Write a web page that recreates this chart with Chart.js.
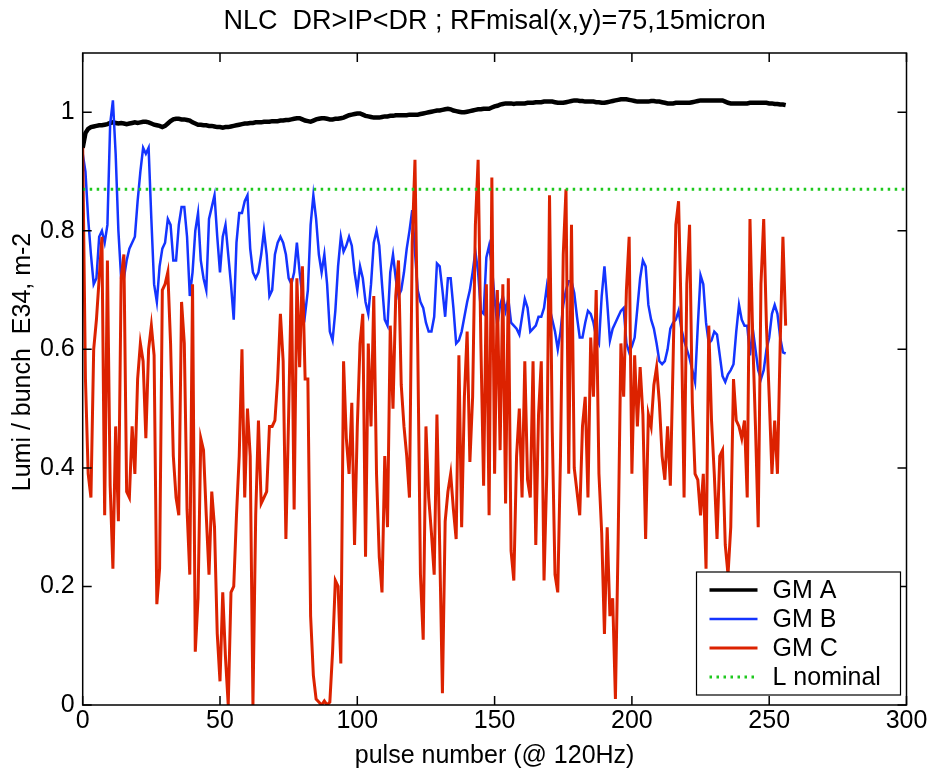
<!DOCTYPE html>
<html>
<head>
<meta charset="utf-8">
<script src="https://cdn.jsdelivr.net/npm/chart.js@4.4.1/dist/chart.umd.min.js"></script>
<style>
  html, body { margin: 0; padding: 0; background: #fff; }
  #wrap { width: 933px; height: 770px; }
</style>
</head>
<body>
<div id="wrap"><canvas id="lumiChart" width="933" height="770"></canvas></div>
<script>
// pulse index 0..256 (x axis)
const pulses = Array.from({ length: 257 }, (_, i) => i);

const gmA = [
  0.940, 0.965, 0.972, 0.975, 0.976, 0.977, 0.978, 0.978, 0.979, 0.980,
  0.982, 0.983, 0.982, 0.981, 0.982, 0.981, 0.980, 0.981, 0.982, 0.983,
  0.982, 0.983, 0.984, 0.984, 0.983, 0.981, 0.979, 0.978, 0.977, 0.975,
  0.977, 0.981, 0.985, 0.988, 0.989, 0.989, 0.988, 0.988, 0.987, 0.986,
  0.983, 0.981, 0.979, 0.979, 0.978, 0.978, 0.977, 0.977, 0.976, 0.975,
  0.975, 0.974, 0.975, 0.975, 0.976, 0.977, 0.978, 0.979, 0.980, 0.981,
  0.981, 0.982, 0.982, 0.983, 0.983, 0.983, 0.984, 0.984, 0.984, 0.985,
  0.985, 0.985, 0.986, 0.986, 0.987, 0.987, 0.988, 0.989, 0.990, 0.990,
  0.988, 0.986, 0.985, 0.984, 0.986, 0.988, 0.989, 0.990, 0.990, 0.989,
  0.988, 0.988, 0.989, 0.989, 0.990, 0.991, 0.993, 0.995, 0.996, 0.997,
  0.998, 0.998, 0.996, 0.994, 0.993, 0.992, 0.991, 0.991, 0.991, 0.992,
  0.993, 0.993, 0.994, 0.994, 0.995, 0.995, 0.995, 0.995, 0.995, 0.996,
  0.996, 0.996, 0.996, 0.997, 0.998, 0.999, 1.000, 1.001, 1.002, 1.003,
  1.003, 1.004, 1.005, 1.006, 1.005, 1.003, 1.002, 1.001, 1.000, 1.000,
  1.001, 1.002, 1.003, 1.004, 1.005, 1.005, 1.006, 1.006, 1.006, 1.008,
  1.010, 1.011, 1.013, 1.014, 1.015, 1.015, 1.015, 1.014, 1.015, 1.015,
  1.015, 1.015, 1.016, 1.016, 1.016, 1.017, 1.017, 1.017, 1.018, 1.018,
  1.018, 1.018, 1.017, 1.016, 1.016, 1.016, 1.017, 1.018, 1.019, 1.020,
  1.020, 1.019, 1.019, 1.018, 1.018, 1.018, 1.018, 1.017, 1.017, 1.016,
  1.016, 1.017, 1.018, 1.019, 1.020, 1.021, 1.022, 1.022, 1.022, 1.021,
  1.020, 1.019, 1.018, 1.018, 1.018, 1.018, 1.018, 1.019, 1.019, 1.018,
  1.018, 1.017, 1.016, 1.015, 1.015, 1.015, 1.016, 1.016, 1.016, 1.016,
  1.016, 1.016, 1.017, 1.018, 1.019, 1.020, 1.020, 1.020, 1.020, 1.020,
  1.020, 1.020, 1.020, 1.020, 1.018, 1.016, 1.015, 1.015, 1.015, 1.015,
  1.015, 1.015, 1.015, 1.016, 1.016, 1.016, 1.016, 1.016, 1.016, 1.016,
  1.015, 1.015, 1.014, 1.014, 1.013, 1.013, 1.012
];

const gmB = [
  0.93, 0.90, 0.82, 0.76, 0.71, 0.72, 0.79, 0.80, 0.78, 0.81,
  0.98, 1.02, 0.93, 0.80, 0.72, 0.72, 0.75, 0.77, 0.78, 0.79,
  0.85, 0.90, 0.94, 0.93, 0.94, 0.82, 0.71, 0.68, 0.74, 0.77,
  0.78, 0.82, 0.81, 0.75, 0.75, 0.81, 0.84, 0.84, 0.79, 0.69,
  0.73, 0.80, 0.83, 0.75, 0.72, 0.70, 0.82, 0.84, 0.86, 0.79,
  0.73, 0.79, 0.81, 0.76, 0.71, 0.65, 0.78, 0.83, 0.83, 0.85,
  0.86, 0.77, 0.73, 0.72, 0.73, 0.76, 0.80, 0.76, 0.69, 0.70,
  0.76, 0.78, 0.79, 0.78, 0.76, 0.72, 0.71, 0.73, 0.78, 0.73,
  0.69, 0.66, 0.70, 0.81, 0.86, 0.82, 0.76, 0.73, 0.76, 0.71,
  0.63, 0.615, 0.665, 0.74, 0.79, 0.765, 0.775, 0.79, 0.775, 0.73,
  0.70, 0.74, 0.72, 0.68, 0.66, 0.71, 0.78, 0.80, 0.775, 0.71,
  0.65, 0.64, 0.73, 0.76, 0.72, 0.69, 0.70, 0.73, 0.77, 0.80,
  0.835, 0.765, 0.70, 0.68, 0.67, 0.645, 0.63, 0.63, 0.655, 0.745,
  0.74, 0.70, 0.655, 0.72, 0.72, 0.67, 0.61, 0.615, 0.63, 0.655,
  0.68, 0.70, 0.73, 0.765, 0.73, 0.665, 0.66, 0.755, 0.775, 0.74,
  0.685, 0.64, 0.675, 0.69, 0.665, 0.685, 0.645, 0.64, 0.635, 0.625,
  0.655, 0.685, 0.67, 0.63, 0.635, 0.64, 0.655, 0.655, 0.67, 0.705,
  0.67, 0.65, 0.63, 0.60, 0.63, 0.675, 0.70, 0.715, 0.715, 0.695,
  0.655, 0.62, 0.62, 0.645, 0.665, 0.66, 0.645, 0.62, 0.61, 0.69,
  0.74, 0.68, 0.615, 0.635, 0.645, 0.655, 0.665, 0.67, 0.61, 0.595,
  0.605, 0.62, 0.67, 0.72, 0.75, 0.74, 0.675, 0.65, 0.635, 0.61,
  0.58, 0.575, 0.58, 0.60, 0.635, 0.645, 0.65, 0.665, 0.635, 0.615,
  0.60, 0.585, 0.565, 0.545, 0.64, 0.725, 0.71, 0.645, 0.61, 0.615,
  0.63, 0.625, 0.59, 0.555, 0.545, 0.558, 0.565, 0.575, 0.63, 0.675,
  0.65, 0.64, 0.64, 0.59, 0.635, 0.60, 0.565, 0.55, 0.565, 0.60,
  0.62, 0.66, 0.675, 0.66, 0.62, 0.595, 0.593
];

const gmC = [
  0.94, 0.55, 0.39, 0.35, 0.60, 0.65, 0.72, 0.79, 0.32, 0.75,
  0.37, 0.23, 0.47, 0.31, 0.72, 0.76, 0.36, 0.35, 0.47, 0.39,
  0.55, 0.61, 0.58, 0.45, 0.60, 0.64, 0.59, 0.17, 0.23, 0.70,
  0.71, 0.73, 0.61, 0.42, 0.35, 0.32, 0.68, 0.61, 0.33, 0.22,
  0.71, 0.09, 0.18, 0.45, 0.43, 0.32, 0.22, 0.36, 0.30, 0.12,
  0.04, 0.19, 0.08, 0.00, 0.19, 0.20, 0.32, 0.42, 0.60, 0.35,
  0.50, 0.42, 0.00, 0.32, 0.48, 0.34, 0.35, 0.36, 0.47, 0.47,
  0.48, 0.55, 0.66, 0.58, 0.28, 0.49, 0.72, 0.33, 0.72, 0.57,
  0.74, 0.55, 0.55, 0.15, 0.05, 0.01, 0.005, 0.00, 0.007, 0.00,
  0.005, 0.09, 0.21, 0.20, 0.07, 0.58, 0.45, 0.39, 0.51, 0.27,
  0.47, 0.61, 0.66, 0.25, 0.61, 0.47, 0.69, 0.39, 0.25, 0.19,
  0.42, 0.30, 0.64, 0.50, 0.69, 0.75, 0.54, 0.47, 0.42, 0.35,
  0.78, 0.92, 0.61, 0.22, 0.11, 0.47, 0.35, 0.29, 0.22, 0.49,
  0.27, 0.02, 0.31, 0.36, 0.39, 0.33, 0.28, 0.59, 0.30, 0.52,
  0.63, 0.41, 0.52, 0.81, 0.92, 0.61, 0.37, 0.71, 0.32, 0.89,
  0.39, 0.70, 0.43, 0.71, 0.34, 0.72, 0.26, 0.21, 0.42, 0.50,
  0.35, 0.58, 0.38, 0.35, 0.58, 0.27, 0.49, 0.58, 0.21, 0.39,
  0.86, 0.46, 0.22, 0.19, 0.42, 0.76, 0.87, 0.39, 0.81, 0.40,
  0.36, 0.32, 0.47, 0.52, 0.35, 0.62, 0.52, 0.70, 0.39, 0.29,
  0.12, 0.30, 0.15, 0.18, 0.01, 0.28, 0.61, 0.52, 0.70, 0.79,
  0.39, 0.59, 0.47, 0.57, 0.49, 0.28, 0.49, 0.47, 0.54, 0.57,
  0.51, 0.42, 0.38, 0.47, 0.37, 0.58, 0.81, 0.85, 0.65, 0.35,
  0.71, 0.81, 0.51, 0.39, 0.38, 0.32, 0.39, 0.23, 0.64, 0.48,
  0.39, 0.28, 0.42, 0.43, 0.27, 0.22, 0.30, 0.55, 0.48, 0.47,
  0.45, 0.48, 0.35, 0.82, 0.62, 0.47, 0.30, 0.71, 0.82, 0.64,
  0.52, 0.39, 0.48, 0.39, 0.61, 0.79, 0.64
];

// nominal luminosity, dotted across the whole axis
const nominalX = [0, 300];
const nominalY = [0.87, 0.87];

const xTicks = [0, 50, 100, 150, 200, 250, 300];
const yTicks = [0, 0.2, 0.4, 0.6, 0.8, 1];

const titleText = 'NLC  DR>IP<DR ; RFmisal(x,y)=75,15micron';
const xLabel = 'pulse number (@ 120Hz)';
const yLabel = 'Lumi / bunch  E34, m-2';

const FAMILY = '"Liberation Sans", Arial, Helvetica, sans-serif';
const BLACK = '#000000', BLUE = '#1434ff', RED = '#dc2200', GREEN = '#1ec81e';

function toPoints(xs, ys) {
    return ys.map((y, i) => ({ x: xs[i], y: y }));
}

// box, inward ticks on all four sides, y label (MATLAB look)
const matlabAxes = {
    id: 'matlabAxes',
    afterDatasetsDraw(chart) {
        const ctx = chart.ctx;
        const a = chart.chartArea;
        const x = chart.scales.x, y = chart.scales.y;
        const len = 9;
        ctx.save();
        ctx.strokeStyle = '#000';
        ctx.lineWidth = 1.5;
        ctx.strokeRect(a.left, a.top, a.right - a.left, a.bottom - a.top);
        ctx.beginPath();
        xTicks.forEach(v => {
            const px = x.getPixelForValue(v);
            ctx.moveTo(px, a.bottom); ctx.lineTo(px, a.bottom - len);
            ctx.moveTo(px, a.top); ctx.lineTo(px, a.top + len);
        });
        yTicks.forEach(v => {
            const py = y.getPixelForValue(v);
            ctx.moveTo(a.left, py); ctx.lineTo(a.left + len, py);
            ctx.moveTo(a.right, py); ctx.lineTo(a.right - len, py);
        });
        ctx.stroke();

        ctx.fillStyle = '#000';
        ctx.font = '25px ' + FAMILY;
        ctx.textAlign = 'center';
        ctx.textBaseline = 'middle';
        ctx.translate(23, (a.top + a.bottom) / 2 - 17);
        ctx.rotate(-Math.PI / 2);
        ctx.fillText(yLabel, 0, 0);
        ctx.restore();
    }
};

// legend box in the lower right corner of the plot
const boxLegend = {
    id: 'boxLegend',
    afterDraw(chart) {
        const ctx = chart.ctx;
        const a = chart.chartArea;
        const w = 204, h = 123;
        const left = a.right - 6 - w, top = a.bottom - 10 - h;
        ctx.save();
        ctx.fillStyle = '#fff';
        ctx.fillRect(left, top, w, h);
        ctx.strokeStyle = '#000';
        ctx.lineWidth = 1.2;
        ctx.strokeRect(left, top, w, h);
        ctx.font = '25px ' + FAMILY;
        ctx.textBaseline = 'middle';
        ctx.textAlign = 'left';
        chart.data.datasets.forEach((ds, i) => {
            const cy = top + 18 + 29 * i;
            ctx.beginPath();
            ctx.strokeStyle = ds.borderColor;
            ctx.lineWidth = i === 0 ? 3.5 : ds.borderWidth;
            ctx.setLineDash(ds.borderDash || []);
            ctx.moveTo(left + 13, cy);
            ctx.lineTo(left + 61, cy);
            ctx.stroke();
            ctx.setLineDash([]);
            ctx.fillStyle = '#000';
            ctx.fillText(ds.label, left + 76, cy + 1);
        });
        ctx.restore();
    }
};

const tickFont = { family: FAMILY, size: 25 };

new Chart(document.getElementById('lumiChart').getContext('2d'), {
    type: 'line',
    data: {
        datasets: [
            { label: 'GM A', data: toPoints(pulses, gmA), borderColor: BLACK, borderWidth: 4.5, order: 4 },
            { label: 'GM B', data: toPoints(pulses, gmB), borderColor: BLUE, borderWidth: 2.5, order: 3 },
            { label: 'GM C', data: toPoints(pulses, gmC), borderColor: RED, borderWidth: 3, order: 2 },
            { label: 'L nominal', data: toPoints(nominalX, nominalY), borderColor: GREEN, borderWidth: 3, borderDash: [2.5, 4.5], order: 1 }
        ]
    },
    options: {
        responsive: false,
        animation: false,
        devicePixelRatio: 1,
        elements: { point: { radius: 0 }, line: { tension: 0, borderCapStyle: 'butt', borderJoinStyle: 'miter' } },
        layout: { padding: { left: 10, right: 26.5, top: 0, bottom: 0 } },
        plugins: {
            legend: { display: false },
            tooltip: { enabled: false },
            title: {
                display: true,
                fullSize: false,
                text: titleText,
                color: '#000',
                font: { family: FAMILY, size: 27, weight: 'normal' },
                padding: { top: 5, bottom: 15.6 }
            }
        },
        scales: {
            x: {
                type: 'linear',
                min: 0,
                max: 300,
                afterBuildTicks: s => { s.ticks = xTicks.map(v => ({ value: v })); },
                afterFit: s => { s.height = 65; },
                grid: { display: false, drawTicks: false },
                border: { display: false },
                ticks: { color: '#000', font: tickFont, padding: 1, maxRotation: 0, autoSkip: false },
                title: { display: true, text: xLabel, color: '#000', font: tickFont, padding: { top: 0, bottom: -1 } }
            },
            y: {
                type: 'linear',
                min: 0,
                max: 1.1,
                afterBuildTicks: s => { s.ticks = yTicks.map(v => ({ value: v })); },
                afterFit: s => { s.width = 72.7; },
                grid: { display: false, drawTicks: false },
                border: { display: false },
                ticks: { color: '#000', font: tickFont, padding: 8, callback: v => String(v) }
            }
        }
    },
    plugins: [matlabAxes, boxLegend]
});
</script>
</body>
</html>
